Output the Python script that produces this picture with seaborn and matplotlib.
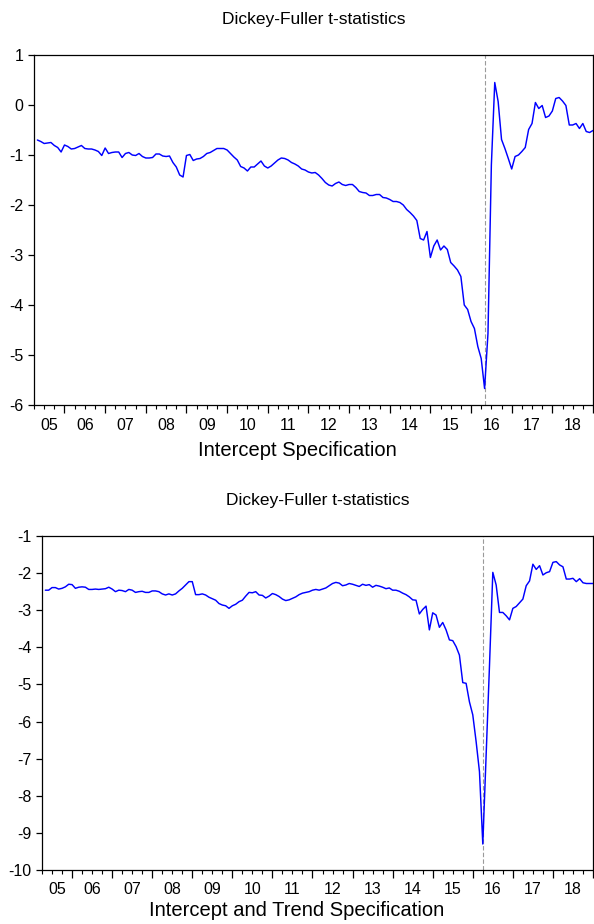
import numpy as np
import pandas as pd
import matplotlib
matplotlib.use("Agg")
import matplotlib.pyplot as plt
import seaborn as sns

# ---------------- data (monthly, Apr 2005 - Dec 2018) ----------------
start_year = 2005
start_month = 4

intercept_tstat = [
    -0.70, -0.73, -0.77, -0.76, -0.75, -0.81, -0.85, -0.94, -0.80, -0.83,
    -0.88, -0.87, -0.84, -0.81, -0.87, -0.88, -0.88, -0.90, -0.93, -1.01,
    -0.86, -0.97, -0.95, -0.94, -0.94, -1.05, -0.97, -0.95, -1.00, -1.01,
    -0.97, -1.03, -1.06, -1.06, -1.05, -0.98, -0.98, -1.02, -1.03, -1.02,
    -1.15, -1.24, -1.40, -1.44, -1.01, -0.99, -1.11, -1.08, -1.07, -1.03,
    -0.97, -0.95, -0.91, -0.87, -0.87, -0.87, -0.90, -0.97, -1.04, -1.10,
    -1.23, -1.26, -1.32, -1.24, -1.24, -1.18, -1.12, -1.22, -1.26, -1.22,
    -1.16, -1.10, -1.06, -1.07, -1.10, -1.15, -1.18, -1.22, -1.28, -1.30,
    -1.34, -1.36, -1.35, -1.40, -1.47, -1.55, -1.60, -1.62, -1.57, -1.54,
    -1.59, -1.61, -1.59, -1.59, -1.65, -1.73, -1.75, -1.76, -1.81, -1.81,
    -1.79, -1.79, -1.85, -1.86, -1.89, -1.93, -1.93, -1.95, -2.00, -2.09,
    -2.15, -2.22, -2.31, -2.67, -2.70, -2.53, -3.05, -2.82, -2.70, -2.90,
    -2.82, -2.89, -3.15, -3.22, -3.30, -3.43, -4.00, -4.09, -4.33, -4.47,
    -4.83, -5.07, -5.67, -4.57, -1.20, 0.45, 0.07, -0.69, -0.87, -1.07,
    -1.28, -1.03, -1.00, -0.93, -0.85, -0.49, -0.37, 0.05, -0.07, -0.01,
    -0.25, -0.22, -0.12, 0.13, 0.15, 0.08, -0.01, -0.40, -0.40, -0.37,
    -0.47, -0.37, -0.53, -0.55, -0.51,
]

trend_tstat = [
    -2.46, -2.46, -2.39, -2.39, -2.43, -2.41, -2.37, -2.30, -2.31, -2.41,
    -2.38, -2.37, -2.38, -2.44, -2.44, -2.43, -2.44, -2.43, -2.42, -2.38,
    -2.43, -2.50, -2.46, -2.47, -2.50, -2.44, -2.46, -2.52, -2.50, -2.49,
    -2.52, -2.52, -2.48, -2.48, -2.50, -2.56, -2.59, -2.56, -2.59, -2.56,
    -2.48, -2.41, -2.32, -2.23, -2.23, -2.58, -2.58, -2.56, -2.59, -2.65,
    -2.69, -2.73, -2.82, -2.86, -2.88, -2.95, -2.88, -2.84, -2.77, -2.73,
    -2.62, -2.52, -2.53, -2.50, -2.59, -2.60, -2.67, -2.62, -2.55, -2.58,
    -2.63, -2.70, -2.74, -2.72, -2.68, -2.64, -2.58, -2.54, -2.52, -2.50,
    -2.46, -2.44, -2.46, -2.43, -2.40, -2.34, -2.28, -2.25, -2.27, -2.34,
    -2.32, -2.28, -2.30, -2.33, -2.36, -2.30, -2.33, -2.31, -2.38, -2.33,
    -2.35, -2.38, -2.42, -2.40, -2.46, -2.46, -2.49, -2.54, -2.58, -2.64,
    -2.72, -2.73, -3.10, -2.98, -2.89, -3.53, -3.07, -3.13, -3.46, -3.33,
    -3.53, -3.80, -3.82, -3.98, -4.21, -4.95, -4.97, -5.47, -5.82, -6.54,
    -7.35, -9.30, -6.90, -4.50, -1.98, -2.32, -3.06, -3.06, -3.15, -3.26,
    -2.95, -2.90, -2.80, -2.70, -2.34, -2.21, -1.76, -1.90, -1.80, -2.05,
    -1.99, -1.96, -1.71, -1.69, -1.78, -1.83, -2.16, -2.16, -2.14, -2.23,
    -2.15, -2.26, -2.28, -2.28, -2.28,
]

year_labels = ["05", "06", "07", "08", "09", "10", "11",
               "12", "13", "14", "15", "16", "17", "18"]
titles = ["Dickey-Fuller t-statistics", "Dickey-Fuller t-statistics"]
xlabels = ["Intercept Specification", "Intercept and Trend Specification"]
yticks_top = [1, 0, -1, -2, -3, -4, -5, -6]
yticks_bottom = [-1, -2, -3, -4, -5, -6, -7, -8, -9, -10]

# ---------------- style ----------------
sns.set_theme(style="ticks")
plt.rcParams["font.family"] = ["Liberation Sans", "DejaVu Sans"]
plt.rcParams["axes.linewidth"] = 0.9
plt.rcParams["axes.edgecolor"] = "black"

fig = plt.figure(figsize=(5.94, 9.24), dpi=100)
W, H = 594.0, 924.0
ax1 = fig.add_axes([34 / W, 1 - 405 / H, 559 / W, 350 / H])
ax2 = fig.add_axes([42 / W, 1 - 870 / H, 551 / W, 334 / H])

x_start = start_year + (start_month - 1) / 12.0


def draw(ax, vals, yticks, title, xlabel, xlabel_y):
    n = len(vals)
    t = start_year + (start_month - 1 + np.arange(n) + 1) / 12.0
    df = pd.DataFrame({"t": t, "v": vals})
    brk = df.loc[df["v"].idxmin(), "t"]
    ax.axvline(brk, color="#9a9a9a", lw=0.8, ls=(0, (4, 2)), zorder=1)
    sns.lineplot(data=df, x="t", y="v", ax=ax, color="#0000ff",
                 linewidth=1.05, zorder=3)
    last_year = int(np.ceil(t[-1]))
    ax.set_xlim(x_start, last_year)
    ax.set_ylim(min(yticks), max(yticks))
    ax.set_yticks(yticks)
    ax.set_yticklabels([str(v) for v in yticks])

    years = np.arange(start_year + 1, last_year + 1)
    ax.set_xticks(years)
    ax.set_xticklabels([])
    quarters = [q for q in np.arange(x_start, last_year + 0.001, 0.25)
                if abs(q - round(q)) > 1e-6]
    ax.set_xticks(quarters, minor=True)
    ax.tick_params(axis="x", which="major", direction="out", length=5.5,
                   width=0.9, color="black")
    ax.tick_params(axis="x", which="minor", direction="out", length=3,
                   width=0.8, color="black")
    ax.tick_params(axis="y", direction="out", length=4.3, width=0.9,
                   color="black", labelsize=11.5, pad=3.5, labelcolor="black")
    ax.set_xlabel("")
    ax.set_ylabel("")

    # year labels centred within each (visible) year
    mids = [(max(start_year + k, x_start) + start_year + k + 1) / 2
            for k in range(len(year_labels))]
    sec = ax.secondary_xaxis("bottom")
    sec.set_xticks(mids)
    sec.set_xticklabels(year_labels)
    sec.tick_params(length=0, labelsize=11.5, pad=9, labelcolor="black")
    sec.spines["bottom"].set_visible(False)

    for s in ax.spines.values():
        s.set_visible(True)
        s.set_color("black")
        s.set_linewidth(0.9)

    ax.set_title(title, fontsize=12.5, pad=22, color="black")
    fig.text(0.5, xlabel_y, xlabel, ha="center", va="center",
             fontsize=14.5, color="black")


draw(ax1, intercept_tstat, yticks_top, titles[0], xlabels[0], 1 - 450 / H)
draw(ax2, trend_tstat, yticks_bottom, titles[1], xlabels[1], 1 - 911 / H)

fig.savefig("out.png", dpi=100, facecolor="white")
